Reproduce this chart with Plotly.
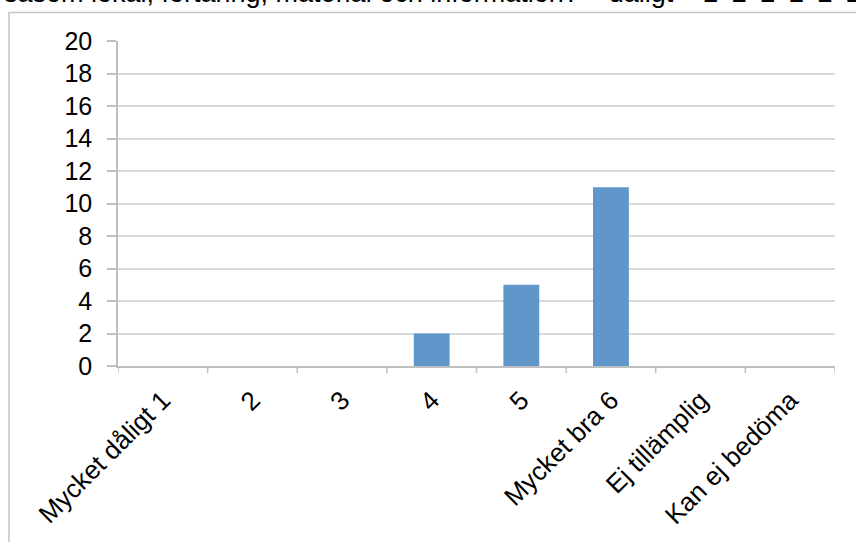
import plotly.graph_objects as go

categories = ["Mycket dåligt 1", "2", "3", "4", "5", "Mycket bra 6", "Ej tillämplig", "Kan ej bedöma"]
values = [0, 0, 0, 2, 5, 11, 0, 0]
y_ticks = list(range(0, 21, 2))
header_text = ("såsom lokal, förtäring, material och information?\u00a0\u2013\u00a0dåligt\u00a0\u2013\u00a0"
               + "\u2002".join(["2"] * 6))

W, H = 856, 542
L, R, T, B = 118, 21, 41, 176
pw, ph = W - L - R, H - T - B

def px_x(p):
    return (p - L) / pw

def px_y(p):
    return (H - B - p) / ph

fig = go.Figure()
fig.add_trace(go.Bar(x=categories, y=values, marker=dict(color="#6096C9", line=dict(width=0)),
                     width=0.4, hoverinfo="skip"))

fig.update_layout(
    width=W, height=H,
    margin=dict(l=L, r=R, t=T, b=B, pad=0),
    paper_bgcolor="white", plot_bgcolor="white",
    font=dict(family="Liberation Sans, Arial, sans-serif", size=24, color="#000000"),
    showlegend=False,
    xaxis=dict(
        type="category", tickangle=-45, showgrid=False,
        showline=True, linecolor="#BFBFBF", linewidth=1.5,
        ticks="", tickfont=dict(size=26), ticklabelstandoff=7,
        range=[-0.5, len(categories) - 0.5],
    ),
    yaxis=dict(
        range=[0, 20], tickvals=y_ticks, showgrid=True, gridcolor="#D9D9D9", gridwidth=1.5,
        showline=True, linecolor="#BFBFBF", linewidth=1.5,
        ticks="outside", ticklen=9, tickcolor="#BFBFBF", tickwidth=1.5,
        tickfont=dict(size=25), zeroline=False, ticklabelstandoff=10,
    ),
    shapes=[
        dict(type="rect", xref="paper", yref="paper",
             x0=px_x(9), x1=px_x(870), y0=px_y(560), y1=px_y(12.5),
             line=dict(color="#C4C4C4", width=1.5), fillcolor="rgba(0,0,0,0)", layer="below"),
    ] + [
        dict(type="line", xref="x", yref="paper", x0=i - 0.5, x1=i - 0.5,
             y0=0, y1=px_y(H - B + 7), line=dict(color="#BFBFBF", width=1.5))
        for i in range(len(categories) + 1)
    ],
    annotations=[
        dict(text=header_text, xref="paper", yref="paper", x=px_x(2), y=px_y(8),
             xanchor="left", yanchor="bottom", showarrow=False,
             font=dict(size=27, color="#000000"), yshift=-2),
    ],
)

fig.write_html("out.html", config={"displayModeBar": False},
               post_script="document.body.style.margin='0';")
